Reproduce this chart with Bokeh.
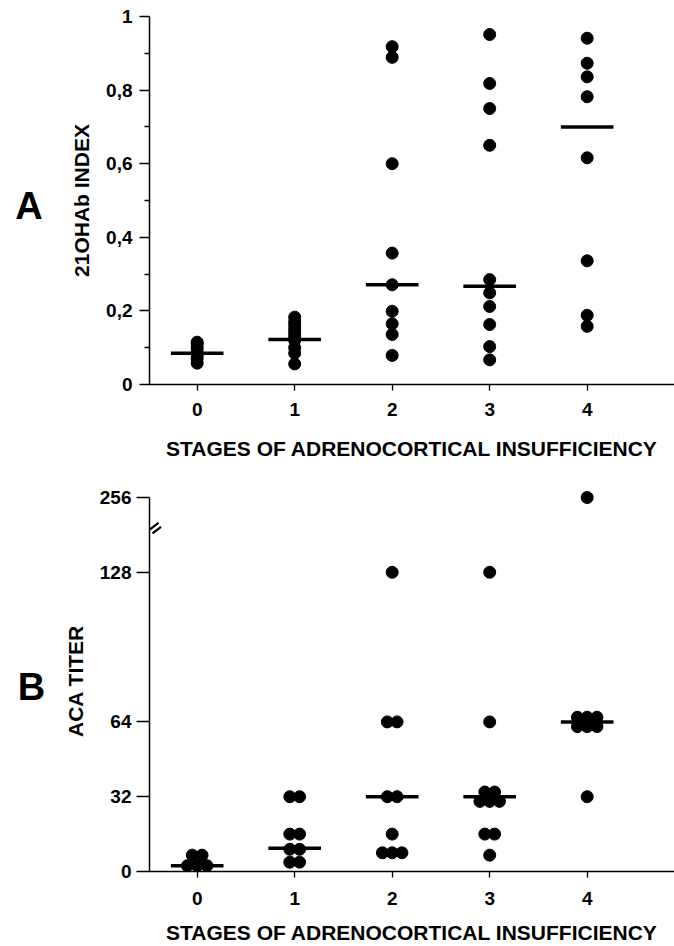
from bokeh.plotting import figure
from bokeh.layouts import column, row
from bokeh.models import Range1d, FixedTicker, CustomJSTickFormatter
from bokeh.core.properties import value
from bokeh.embed import file_html
from bokeh.resources import INLINE

# ---------------- data ----------------
stages = [0, 1, 2, 3, 4]

# Panel A: 21OHAb index per stage
idx_s0 = [0.058, 0.07, 0.08, 0.09, 0.10, 0.11, 0.115]
idx_s1 = [0.056, 0.085, 0.10, 0.12, 0.13, 0.14, 0.15, 0.16, 0.17, 0.183]
idx_s2 = [0.079, 0.136, 0.165, 0.199, 0.271, 0.357, 0.60, 0.889, 0.918]
idx_s3 = [0.067, 0.103, 0.163, 0.212, 0.249, 0.285, 0.650, 0.750, 0.818, 0.951]
idx_s4 = [0.158, 0.188, 0.336, 0.616, 0.782, 0.836, 0.873, 0.941]
idx_medians = [0.085, 0.122, 0.271, 0.267, 0.700]

# Panel B: ACA titer per stage
aca_s0 = [2.5, 2.5, 2.5, 7, 7]
aca_s1 = [4, 4, 9.5, 9.5, 16, 16, 32, 32]
aca_s2 = [8, 8, 8, 16, 32, 32, 64, 64, 128]
aca_s3 = [7, 16, 16, 30, 30, 30, 34, 34, 64, 128]
aca_s4 = [32, 62, 62, 62, 66, 66, 66, 256]
aca_medians = [2.5, 10, 32, 32, 64]

idx_ticks = [0, 0.2, 0.4, 0.6, 0.8, 1.0]
idx_minor = [0.1, 0.3, 0.5, 0.7, 0.9]
aca_ticks = [0, 32, 64, 128, 256]

x_title = "STAGES OF ADRENOCORTICAL INSUFFICIENCY"
panel_letters = ["A", "B"]

FONT = "Liberation Sans"
BREAK_AT = 128


def aca_pos(v):
    # broken axis: values above 128 compressed by a factor 4
    return v if v <= BREAK_AT else BREAK_AT + (v - BREAK_AT) / 4.0


def style(p):
    p.xgrid.visible = False
    p.ygrid.visible = False
    p.outline_line_color = None
    p.background_fill_color = "white"
    p.border_fill_color = "white"
    for ax in (p.xaxis[0], p.yaxis[0]):
        ax.axis_line_width = 1.5
        ax.axis_line_color = "black"
        ax.major_tick_line_color = "black"
        ax.major_tick_line_width = 1.3
        ax.minor_tick_line_color = "black"
        ax.minor_tick_line_width = 1.3
        ax.major_tick_in = 0
        ax.minor_tick_in = 0
        ax.major_label_text_font = FONT
        ax.major_label_text_font_style = "bold"
        ax.major_label_text_font_size = "19px"
        ax.major_label_text_color = "black"
        ax.axis_label_text_font = FONT
        ax.axis_label_text_font_style = "bold"
        ax.axis_label_text_font_size = "21px"
        ax.axis_label_text_color = "black"
    p.xaxis.ticker = FixedTicker(ticks=stages)
    p.xaxis.major_tick_out = 6
    p.xaxis.minor_tick_line_color = None
    p.xaxis.axis_label = x_title


LETTER_W = 50
PX = 97.5          # px per stage unit
AX_X = 149 - LETTER_W
XR = (-0.489, -0.489 + (674 - 149) / PX)
HALF = 0.27

# ---------------- panel letters ----------------
pL = figure(width=LETTER_W, height=946, x_range=Range1d(0, LETTER_W), y_range=Range1d(946, 0),
            output_backend="svg", toolbar_location=None,
            min_border_left=0, min_border_right=0, min_border_top=0, min_border_bottom=0)
pL.axis.visible = False
pL.grid.visible = False
pL.outline_line_color = None
pL.text(x=[28.5, 31], y=[205, 686], text=panel_letters, text_font=value(FONT),
        text_font_style="bold", text_font_size="38px", text_align="center",
        text_baseline="middle", text_color="black")

# ---------------- panel A ----------------
pA = figure(width=674 - LETTER_W, height=470, x_range=Range1d(*XR), y_range=Range1d(0, 1.0),
            output_backend="svg", toolbar_location=None,
            min_border_left=AX_X, min_border_right=0, min_border_top=16, min_border_bottom=86)
style(pA)
pA.xaxis.major_label_standoff = 12
pA.xaxis.axis_label_standoff = 18
pA.yaxis.ticker = FixedTicker(ticks=idx_ticks, minor_ticks=idx_minor)
pA.yaxis.formatter = CustomJSTickFormatter(code="""
if (Math.abs(tick) < 1e-9) return '0';
if (Math.abs(tick - 1) < 1e-9) return '1';
return tick.toFixed(1).replace('.', ',');
""")
pA.yaxis.major_tick_out = 10
pA.yaxis.minor_tick_out = 5
pA.yaxis.major_label_standoff = 7
pA.yaxis.axis_label = "21OHAb INDEX"
pA.yaxis.axis_label_standoff = 10

for s, vals in zip(stages, [idx_s0, idx_s1, idx_s2, idx_s3, idx_s4]):
    pA.scatter([s] * len(vals), vals, size=12, fill_color="black", line_color="black")
pA.segment(x0=[s - HALF for s in stages], x1=[s + HALF for s in stages],
           y0=idx_medians, y1=idx_medians, line_width=3.5, line_color="black")

# ---------------- panel B ----------------
pB = figure(width=674 - LETTER_W, height=476, x_range=Range1d(*XR), y_range=Range1d(0, 163),
            output_backend="svg", toolbar_location=None,
            min_border_left=AX_X, min_border_right=0, min_border_top=20, min_border_bottom=75)
style(pB)
pB.xaxis.major_label_standoff = 14
pB.xaxis.axis_label_standoff = 13
tick_pos = [aca_pos(t) for t in aca_ticks]
pB.yaxis.ticker = FixedTicker(ticks=tick_pos)
pB.yaxis.formatter = CustomJSTickFormatter(code="""
if (Math.abs(tick - 160) < 1e-6) return '256';
return tick.toFixed(0);
""")
pB.yaxis.bounds = (0, aca_pos(256))
pB.yaxis.major_tick_out = 13
pB.yaxis.major_label_standoff = 5
pB.yaxis.axis_label = "ACA TITER"
pB.yaxis.axis_label_standoff = 10

STEP = 0.1
for s, vals in zip(stages, [aca_s0, aca_s1, aca_s2, aca_s3, aca_s4]):
    groups = {}
    for v in vals:
        groups[v] = groups.get(v, 0) + 1
    xs, ys = [], []
    for v, n in groups.items():
        for i in range(n):
            xs.append(s + (i - (n - 1) / 2) * STEP)
            ys.append(aca_pos(v))
    pB.scatter(xs, ys, size=12, fill_color="black", line_color="black")
pB.segment(x0=[s - HALF for s in stages], x1=[s + HALF for s in stages],
           y0=aca_medians, y1=aca_medians, line_width=3.5, line_color="black")

# axis break mark "//" beside the y axis (decoration)
PY = 2.3375   # px per titer unit
brk = aca_pos(BREAK_AT) + 18.2
bx0 = [XR[0] + 0.5 / PX, XR[0] + 3 / PX]
bx1 = [XR[0] + 9 / PX, XR[0] + 11.5 / PX]
by0 = [brk + 0.5 / PY, brk - 3.5 / PY]
by1 = [brk + 7.0 / PY, brk + 3.0 / PY]
pB.segment(x0=bx0, x1=bx1, y0=by0, y1=by1, line_width=2.2, line_color="black")

layout = row(pL, column(pA, pB, spacing=0), spacing=0)
open("out.html", "w").write(file_html(layout, INLINE))
